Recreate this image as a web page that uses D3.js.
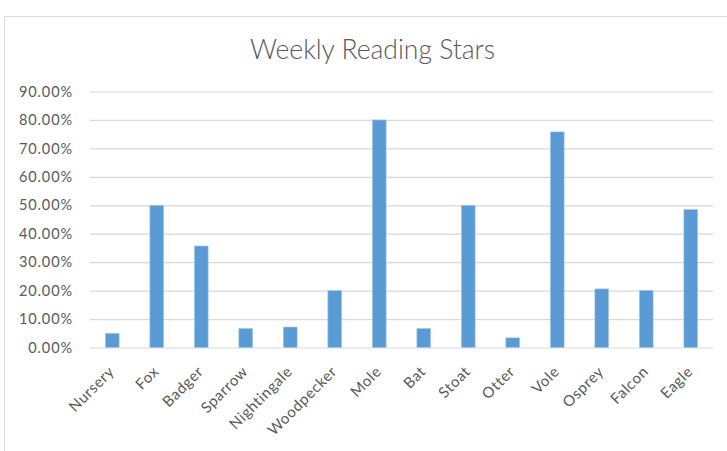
<!DOCTYPE html>
<html><head><meta charset="utf-8">
<script src="https://cdn.jsdelivr.net/npm/d3@7"></script>
<style>body{margin:0;background:#fff;}svg{display:block;}</style>
</head><body>
<svg id="chart" width="727" height="451"></svg>
<script>
const categories = ["Nursery","Fox","Badger","Sparrow","Nightingale","Woodpecker","Mole","Bat","Stoat","Otter","Vole","Osprey","Falcon","Eagle"];
const values = [0.05,0.50,0.357,0.067,0.072,0.20,0.80,0.067,0.50,0.034,0.758,0.206,0.201,0.485];
const yTicks = [0,0.1,0.2,0.3,0.4,0.5,0.6,0.7,0.8,0.9];
const title = "Weekly Reading Stars";

const svg = d3.select("#chart");
const font = "Lato, 'Open Sans', sans-serif";
const textCol = "#595959";

svg.append("line").attr("x1",4.5).attr("x2",727).attr("y1",16.5).attr("y2",16.5).attr("stroke","#d9d9d9");
svg.append("line").attr("x1",4.5).attr("x2",4.5).attr("y1",16.5).attr("y2",451).attr("stroke","#d9d9d9");

const x = d3.scaleBand().domain(categories).range([90,713]).paddingInner(0.69).paddingOuter(0.345);
const y = d3.scaleLinear().domain([0,0.9]).range([347.5,91.5]);

svg.append("text").attr("x",372.5).attr("y",59).attr("text-anchor","middle")
  .attr("font-family",font).attr("font-size",26.5).attr("font-weight",300).attr("fill",textCol).text(title);

const ya = svg.append("g").attr("transform","translate(90,0)")
  .call(d3.axisLeft(y).tickValues(yTicks).tickFormat(d3.format(".2%")).tickSize(-623).tickPadding(17));
ya.select(".domain").remove();
ya.selectAll(".tick line").attr("stroke","#d9d9d9").attr("stroke-width",1.2);
ya.selectAll(".tick text").attr("font-family",font).attr("font-size",14.5).attr("letter-spacing",0.9).attr("fill",textCol);

svg.append("g").selectAll("rect").data(values).join("rect")
  .attr("x",(d,i)=>x(categories[i])).attr("width",x.bandwidth())
  .attr("y",d=>y(d)).attr("height",d=>y(0)-y(d))
  .attr("fill","#5b9bd5").attr("stroke","#a9c9ea").attr("stroke-width",0.6);

const xa = svg.append("g").attr("transform","translate(0,347.5)")
  .call(d3.axisBottom(x).tickSize(0).tickPadding(0));
xa.select(".domain").remove();
xa.selectAll(".tick text").attr("font-family",font).attr("font-size",15).attr("letter-spacing",0.6).attr("fill",textCol)
  .attr("text-anchor","end").attr("dy",0).attr("y",0)
  .attr("transform","translate(3,25) rotate(-45)");
</script>
</body></html>
